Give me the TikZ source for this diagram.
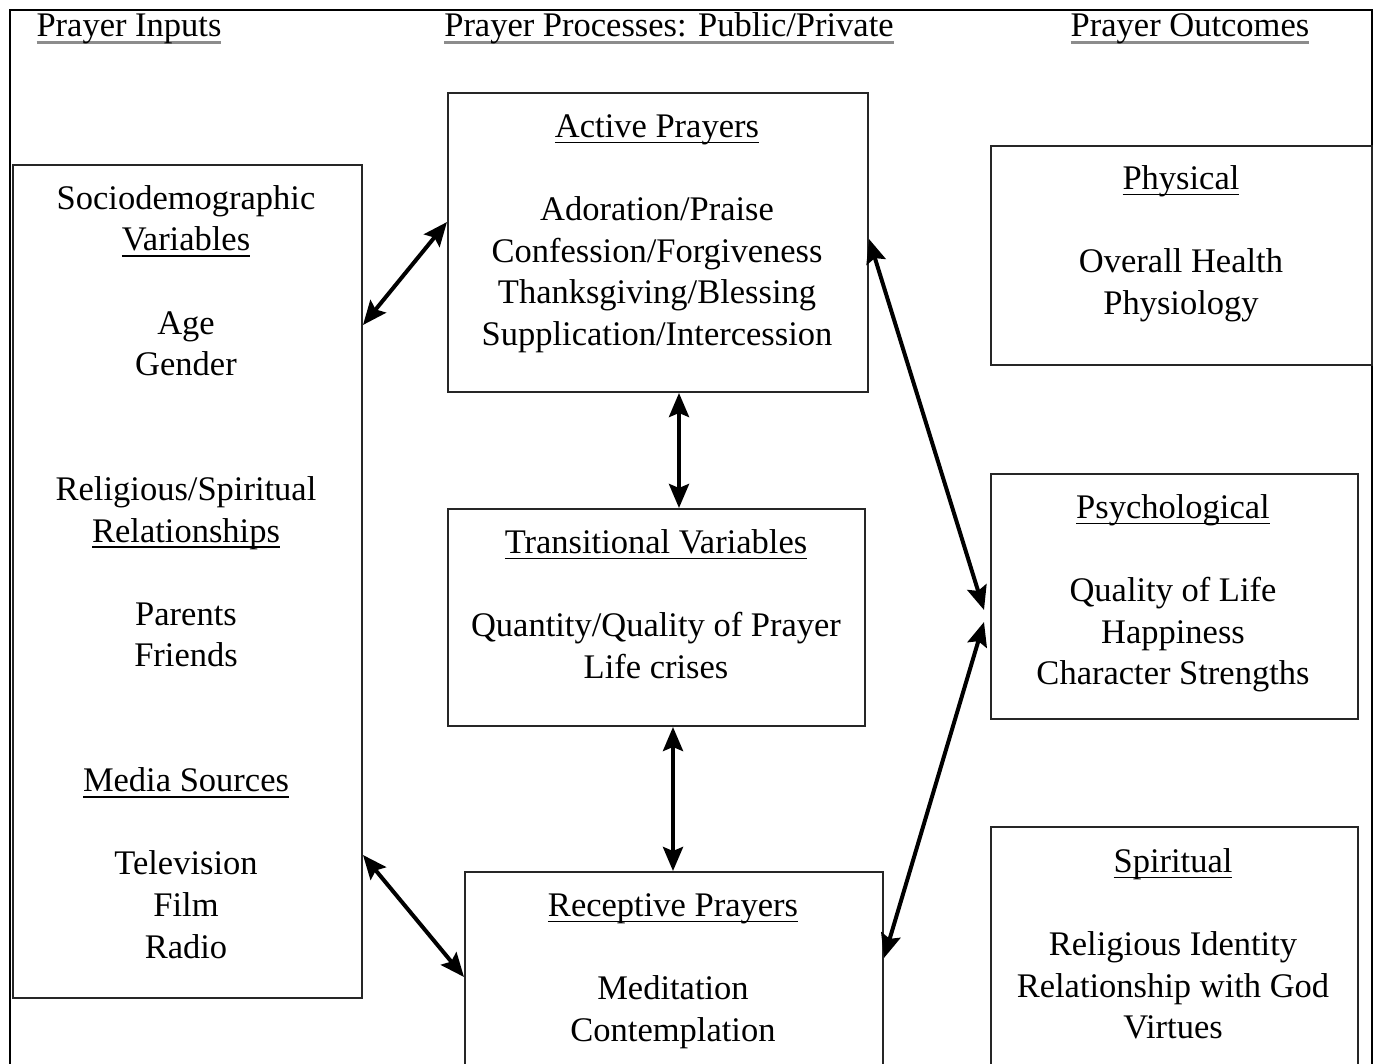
\documentclass[tikz,border=0pt]{standalone}
\usepackage{fontspec}
\setmainfont{Liberation Serif}
\usetikzlibrary{arrows.meta}
\newcommand\myul[1]{\setbox0\hbox{#1}\rlap{\color{black}\rule[-6pt]{\wd0}{1.8pt}}\box0}
\newcommand\myhd[1]{\setbox0\hbox{#1}\rlap{\color{black!45}\rule[-7.5pt]{\wd0}{3pt}}\box0}
\begin{document}
\begin{tikzpicture}[x=1pt,y=-1pt,
  box/.style={draw=black!85,line width=2pt,inner sep=0pt,anchor=north west},
  txt/.style={font=\fontsize{34.5}{41.6}\selectfont,align=center,inner sep=0pt,anchor=north},
  hd/.style={font=\fontsize{34.5}{41.6}\selectfont,inner sep=0pt,anchor=base},
  dbl/.style={{Stealth[length=24pt,width=20pt,inset=4pt]}-{Stealth[length=24pt,width=20pt,inset=4pt]},line width=4pt}]
\useasboundingbox (0,0) rectangle (1377,1064);
\fill[white] (0,0) rectangle (1377,1064);
\begin{scope}
\clip (0,0) rectangle (1377,1064);
% outer frame
\coordinate (fa) at (10,1090);
\coordinate (fb) at (10,10);
\coordinate (fc) at (1372,10);
\coordinate (fd) at (1372,1090);
\draw[line width=2.5pt] (fa) -- (fb) -- (fc) -- (fd);
% headers
\node[hd] (h1) at (129,37) {\myhd{Prayer Inputs}};
\node[hd] (h2) at (669,37) {\myhd{Prayer Processes: Public/Private}};
\node[hd] (h3) at (1190,37) {\myhd{Prayer Outcomes}};
% boxes
\node[box,minimum width=349pt,minimum height=833pt] (soc) at (12,164) {};
\node[box,minimum width=420pt,minimum height=299pt] (act) at (447,92) {};
\node[box,minimum width=417pt,minimum height=217pt] (trn) at (447,508) {};
\node[box,minimum width=418pt,minimum height=230pt] (rec) at (464,871) {};
\node[box,minimum width=381pt,minimum height=219pt] (phy) at (990,145) {};
\node[box,minimum width=367pt,minimum height=245pt] (psy) at (990,473) {};
\node[box,minimum width=367pt,minimum height=270pt] (spi) at (990,826) {};
% texts
\node[txt] (soct) at (186,180) {\strut Sociodemographic\\ \strut\myul{Variables}\\[41.6pt]
  \strut Age\\ \strut Gender\\[83.2pt]
  \strut Religious/Spiritual\\ \strut\myul{Relationships}\\[41.6pt]
  \strut Parents\\ \strut Friends\\[83.2pt]
  \strut\myul{Media Sources}\\[41.6pt]
  \strut Television\\ \strut Film\\ \strut Radio};
\node[txt] (actt) at (657,108) {\strut\myul{Active Prayers}\\[41.6pt]
  \strut Adoration/Praise\\ \strut Confession/Forgiveness\\ \strut Thanksgiving/Blessing\\ \strut Supplication/Intercession};
\node[txt] (trnt) at (656,524) {\strut\myul{Transitional Variables}\\[41.6pt]
  \strut Quantity/Quality of Prayer\\ \strut Life crises};
\node[txt] (rect) at (673,887) {\strut\myul{Receptive Prayers}\\[41.6pt]
  \strut Meditation\\ \strut Contemplation};
\node[txt] (phyt) at (1181,160) {\strut\myul{Physical}\\[41.6pt]
  \strut Overall Health\\ \strut Physiology};
\node[txt] (psyt) at (1173,489) {\strut\myul{Psychological}\\[41.6pt]
  \strut Quality of Life\\ \strut Happiness\\ \strut Character Strengths};
\node[txt] (spit) at (1173,843) {\strut\myul{Spiritual}\\[41.6pt]
  \strut Religious Identity\\ \strut Relationship with God\\ \strut Virtues};
% connectors
\draw[dbl] ([yshift=-161pt]soc.north east) -- ([yshift=-130pt]act.north west);
\draw[dbl] ([yshift=-691pt]soc.north east) -- ([yshift=-106pt]rec.north west);
\draw[dbl] ([xshift=232pt]act.south west) -- ([xshift=232pt]trn.north west);
\draw[dbl] ([xshift=226pt]trn.south west) -- ([xshift=209pt]rec.north west);
\draw[dbl] ([yshift=-147pt]act.north east) -- ([xshift=-6pt,yshift=-137pt]psy.north west);
\draw[dbl] ([xshift=-6pt,yshift=-149pt]psy.north west) -- ([yshift=-87pt]rec.north east);
\end{scope}
\end{tikzpicture}
\end{document}
